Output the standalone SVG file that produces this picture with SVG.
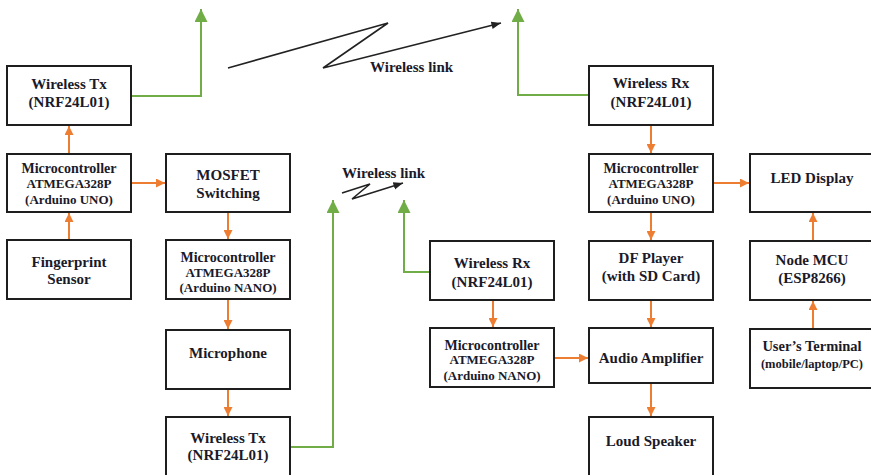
<svg xmlns="http://www.w3.org/2000/svg" width="871" height="475" viewBox="0 0 871 475">
  <style>
    .box { fill: #ffffff; stroke: #1e1e1e; stroke-width: 2; }
    text { font-family: "Liberation Serif", "Times New Roman", serif; font-weight: bold; fill: #1a1a2a; text-anchor: middle; }
    .t15 { font-size: 15px; }
    .t14 { font-size: 14px; }
    .t13 { font-size: 13px; }
    .t12 { font-size: 12.5px; }
    .lbl { text-anchor: start; font-size: 15px; }
    .org { fill: none; stroke: #ed7d31; stroke-width: 2; marker-end: url(#ah-org); }
    .grn { fill: none; stroke: #70ad47; stroke-width: 2; marker-end: url(#ah-grn); }
    .blk { fill: none; stroke: #222222; stroke-width: 1.6; }
  </style>
  <defs>
    <marker id="ah-org" viewBox="0 0 10 10" refX="10" refY="5" markerWidth="4.5" markerHeight="4.5" orient="auto" markerUnits="strokeWidth">
      <path d="M0,0 L10,5 L0,10 z" fill="#ed7d31"/>
    </marker>
    <marker id="ah-grn" viewBox="0 0 10 10" refX="10" refY="5" markerWidth="6.5" markerHeight="6.5" orient="auto" markerUnits="strokeWidth">
      <path d="M0,0 L10,5 L0,10 z" fill="#70ad47"/>
    </marker>
    <marker id="ah-blk" viewBox="0 0 10 10" refX="10" refY="5" markerWidth="6" markerHeight="6" orient="auto" markerUnits="strokeWidth">
      <path d="M0,1 L10,5 L0,9 z" fill="#222222"/>
    </marker>
  </defs>

  <rect width="871" height="475" fill="#ffffff"/>

  <!-- connectors -->
  <g id="connectors">
    <!-- transmitter side (orange) -->
    <line class="org" x1="69" y1="240" x2="69" y2="213"/>
    <line class="org" x1="69" y1="154" x2="69" y2="126"/>
    <line class="org" x1="131" y1="183" x2="165" y2="183"/>
    <line class="org" x1="228" y1="212" x2="228" y2="239"/>
    <line class="org" x1="228" y1="299" x2="228" y2="329"/>
    <line class="org" x1="228" y1="389" x2="228" y2="416"/>
    <!-- receiver side (orange) -->
    <line class="org" x1="651" y1="125" x2="651" y2="153"/>
    <line class="org" x1="713" y1="183" x2="749" y2="183"/>
    <line class="org" x1="651" y1="212" x2="651" y2="240"/>
    <line class="org" x1="651" y1="300" x2="651" y2="327"/>
    <line class="org" x1="651" y1="383" x2="651" y2="416"/>
    <line class="org" x1="493" y1="300" x2="493" y2="327"/>
    <line class="org" x1="554" y1="358" x2="588" y2="358"/>
    <line class="org" x1="813" y1="241" x2="813" y2="213"/>
    <line class="org" x1="813" y1="329" x2="813" y2="301"/>
    <!-- antennas (green) -->
    <polyline class="grn" points="131,96 201,96 201,9"/>
    <polyline class="grn" points="588,95 518,95 518,9"/>
    <polyline class="grn" points="290,447 333,447 333,200"/>
    <polyline class="grn" points="430,272 404,272 404,200"/>
    <!-- wireless links -->
    <polyline class="blk" points="228,68 388,23 323,68 501,23" marker-end="url(#ah-blk)"/>
    <polyline class="blk" points="342,193 370,184 352,199 403,183" stroke-width="1.4" marker-end="url(#ah-blk)"/>
    <text class="lbl" x="370" y="72">Wireless link</text>
    <text class="lbl" x="342" y="178">Wireless link</text>
  </g>

  <!-- transmitter unit -->
  <g id="wireless-tx-1">
    <rect class="box" x="7" y="66" width="124" height="59"/>
    <text class="t15" x="69" y="89">Wireless Tx</text>
    <text class="t15" x="69" y="107">(NRF24L01)</text>
  </g>
  <g id="mcu-uno-1">
    <rect class="box" x="7" y="154" width="124" height="58"/>
    <text class="t14" x="69" y="173">Microcontroller</text>
    <text class="t13" x="69" y="188">ATMEGA328P</text>
    <text class="t13" x="69" y="204">(Arduino UNO)</text>
  </g>
  <g id="fingerprint">
    <rect class="box" x="7" y="240" width="124" height="59"/>
    <text class="t15" x="69" y="267">Fingerprint</text>
    <text class="t15" x="69" y="284">Sensor</text>
  </g>
  <g id="mosfet">
    <rect class="box" x="166" y="154" width="124" height="58"/>
    <text class="t15" x="228" y="180">MOSFET</text>
    <text class="t15" x="228" y="198">Switching</text>
  </g>
  <g id="mcu-nano-1">
    <rect class="box" x="166" y="240" width="124" height="59"/>
    <text class="t14" x="228" y="262">Microcontroller</text>
    <text class="t13" x="228" y="277">ATMEGA328P</text>
    <text class="t13" x="228" y="292">(Arduino NANO)</text>
  </g>
  <g id="microphone">
    <rect class="box" x="166" y="330" width="124" height="59"/>
    <text class="t15" x="228" y="358">Microphone</text>
  </g>
  <g id="wireless-tx-2">
    <rect class="box" x="166" y="417" width="124" height="60"/>
    <text class="t15" x="228" y="443">Wireless Tx</text>
    <text class="t15" x="228" y="460">(NRF24L01)</text>
  </g>

  <!-- receiver units -->
  <g id="wireless-rx-2">
    <rect class="box" x="430" y="241" width="124" height="59"/>
    <text class="t15" x="492" y="268">Wireless Rx</text>
    <text class="t15" x="492" y="287">(NRF24L01)</text>
  </g>
  <g id="mcu-nano-2">
    <rect class="box" x="430" y="328" width="124" height="59"/>
    <text class="t14" x="492" y="350">Microcontroller</text>
    <text class="t13" x="492" y="364">ATMEGA328P</text>
    <text class="t13" x="492" y="380">(Arduino NANO)</text>
  </g>
  <g id="wireless-rx-1">
    <rect class="box" x="589" y="66" width="124" height="59"/>
    <text class="t15" x="651" y="88">Wireless Rx</text>
    <text class="t15" x="651" y="107">(NRF24L01)</text>
  </g>
  <g id="mcu-uno-2">
    <rect class="box" x="589" y="154" width="124" height="58"/>
    <text class="t14" x="651" y="173">Microcontroller</text>
    <text class="t13" x="651" y="188">ATMEGA328P</text>
    <text class="t13" x="651" y="204">(Arduino UNO)</text>
  </g>
  <g id="df-player">
    <rect class="box" x="589" y="241" width="124" height="59"/>
    <text class="t15" x="651" y="263">DF Player</text>
    <text class="t15" x="651" y="281">(with SD Card)</text>
  </g>
  <g id="audio-amplifier">
    <rect class="box" x="589" y="328" width="124" height="55"/>
    <text class="t15" x="651" y="363">Audio Amplifier</text>
  </g>
  <g id="loud-speaker">
    <rect class="box" x="589" y="417" width="124" height="60"/>
    <text class="t15" x="651" y="446">Loud Speaker</text>
  </g>
  <g id="led-display">
    <rect class="box" x="750" y="154" width="126" height="58"/>
    <text class="t15" x="812" y="183">LED Display</text>
  </g>
  <g id="node-mcu">
    <rect class="box" x="750" y="241" width="126" height="59"/>
    <text class="t15" x="812" y="265">Node MCU</text>
    <text class="t15" x="812" y="283">(ESP8266)</text>
  </g>
  <g id="users-terminal">
    <rect class="box" x="750" y="329" width="126" height="59"/>
    <text class="t15" x="812" y="351" style="font-size:14.5px">User’s Terminal</text>
    <text class="t12" x="812" y="368">(mobile/laptop/PC)</text>
  </g>
</svg>
